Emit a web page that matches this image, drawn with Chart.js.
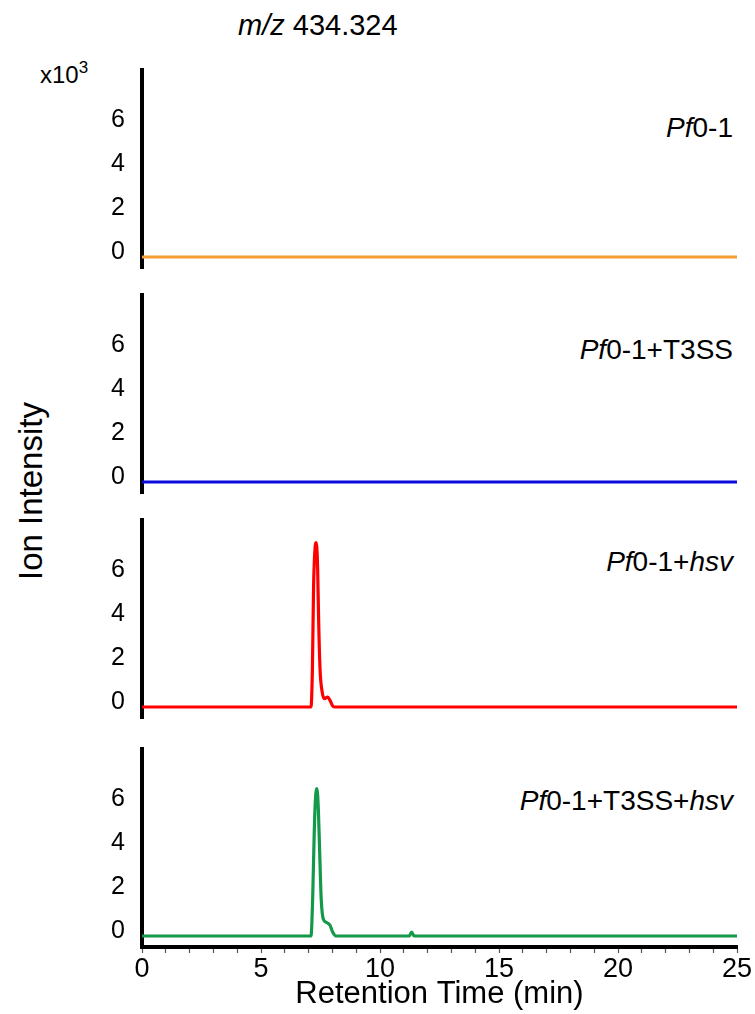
<!DOCTYPE html>
<html>
<head>
<meta charset="utf-8">
<script src="https://cdn.jsdelivr.net/npm/chart.js@4.4.0/dist/chart.umd.min.js"></script>
<style>
  html, body { margin: 0; padding: 0; background: #fff; }
  body { width: 755px; height: 1014px; position: relative; overflow: hidden;
         font-family: "Liberation Sans", Arial, Helvetica, sans-serif; color: #000; }
  canvas.panel { position: absolute; left: 0; }
  .txt { position: absolute; white-space: nowrap; line-height: 1; color: #000; }
</style>
</head>
<body>
<div class="txt" id="title" style="left:238px; top:11px; font-size:29px;"><i>m/z</i> 434.324</div>
<div class="txt" id="mult" style="left:40px; top:63px; font-size:24px;">x10<sup style="font-size:17px; vertical-align:0; position:relative; top:-10px;">3</sup></div>
<div class="txt" id="ylab" style="left:30px; top:491px; font-size:33px; transform:translate(-50%,-50%) rotate(-90deg);">Ion Intensity</div>
<div class="txt" id="lab0" style="right:22px; top:114px; font-size:28px;"><i>Pf</i>0-1</div>
<div class="txt" id="lab1" style="right:22px; top:336px; font-size:28px;"><i>Pf</i>0-1+T3SS</div>
<div class="txt" id="lab2" style="right:22px; top:548px; font-size:28px;"><i>Pf</i>0-1+<i>hsv</i></div>
<div class="txt" id="lab3" style="right:22px; top:787px; font-size:28px;"><i>Pf</i>0-1+T3SS+<i>hsv</i></div>

<canvas class="panel" id="p0"></canvas>
<canvas class="panel" id="p1"></canvas>
<canvas class="panel" id="p2"></canvas>
<canvas class="panel" id="p3"></canvas>

<script>
// ---------------- data ----------------
const timeMin = 0;
const timeMax = 25;
const xTickValues = [0,1,2,3,4,5,6,7,8,9,10,11,12,13,14,15,16,17,18,19,20,21,22,23,24,25];
const xTickLabels = ['0', '5', '10', '15', '20', '25'];
const yTickValues = [0, 2, 4, 6];
const yMin = -0.5;
const yMax = 8.5;
const xTitle = 'Retention Time (min)';

// Pf0-1
const time_Pf01 = [0, 25];
const int_Pf01 = [0, 0];
// Pf0-1+T3SS
const time_Pf01_T3SS = [0, 25];
const int_Pf01_T3SS = [0, 0];
// Pf0-1+hsv
const time_Pf01_hsv = [0, 7.10, 7.16, 7.21, 7.27, 7.32, 7.38, 7.42, 7.48, 7.56, 7.66, 7.80, 7.90, 8.01, 8.08, 25];
const int_Pf01_hsv  = [0, 0,    1.74, 5.53, 7.20, 7.47, 6.30, 4.03, 1.74, 0.75, 0.38, 0.45, 0.30, 0.05, 0,    0];
// Pf0-1+T3SS+hsv
const time_Pf01_T3SS_hsv = [0, 7.10, 7.17, 7.23, 7.28, 7.35, 7.41, 7.47, 7.53, 7.62, 7.76, 7.90, 8.01, 8.15, 11.23, 11.33, 11.43, 25];
const int_Pf01_T3SS_hsv  = [0, 0,    1.67, 4.40, 6.06, 6.70, 5.76, 3.64, 1.67, 0.76, 0.61, 0.49, 0.18, 0,    0,     0.18,  0,     0];

// ---------------- layout / style ----------------
const W = 755;
const AXIS_LEFT = 142;
const PAD_RIGHT = 18;
const PLOT_H = 198;
const PAD_V = 25;
const panelTops = [70, 295, 520, 749];
const colors = ['#F59E36', '#0A0ADC', '#FF0000', '#14994A'];
const FONT = '"Liberation Sans", Arial, Helvetica, sans-serif';

const panels = [
  { t: time_Pf01, v: int_Pf01 },
  { t: time_Pf01_T3SS, v: int_Pf01_T3SS },
  { t: time_Pf01_hsv, v: int_Pf01_hsv },
  { t: time_Pf01_T3SS_hsv, v: int_Pf01_T3SS_hsv }
];

function makePanel(i) {
  const isLast = i === panels.length - 1;
  const cv = document.getElementById('p' + i);
  const top = panelTops[i] - PAD_V;
  const h = isLast ? (1014 - top) : (PLOT_H + 2 * PAD_V);
  cv.style.top = top + 'px';
  cv.width = W; cv.height = h;
  cv.style.width = W + 'px'; cv.style.height = h + 'px';
  const xAxisH = h - PAD_V - PLOT_H;
  const pts = panels[i].t.map((x, k) => ({ x: x, y: panels[i].v[k] }));

  new Chart(cv, {
    type: 'line',
    data: {
      datasets: [{
        data: pts,
        borderColor: colors[i],
        borderWidth: 3.2,
        pointRadius: 0,
        fill: false,
        cubicInterpolationMode: 'monotone'
      }]
    },
    options: {
      responsive: false,
      devicePixelRatio: 1,
      animation: false,
      events: [],
      layout: { padding: { left: 0, right: PAD_RIGHT, top: PAD_V, bottom: isLast ? 0 : PAD_V } },
      plugins: { legend: { display: false }, tooltip: { enabled: false }, title: { display: false } },
      scales: {
        x: {
          type: 'linear',
          min: timeMin, max: timeMax,
          display: isLast,
          afterBuildTicks: (s) => { s.ticks = xTickValues.map(v => ({ value: v })); },
          afterFit: (s) => { if (isLast) s.height = xAxisH; },
          border: { display: true, color: '#000', width: 4 },
          grid: { drawOnChartArea: false, drawTicks: true, tickLength: 6, tickColor: '#555', tickWidth: 1.2 },
          ticks: {
            autoSkip: false, maxRotation: 0, padding: 0, color: '#000',
            font: { family: FONT, size: 27 },
            callback: (v) => xTickLabels.includes(String(v)) ? String(v) : ''
          },
          title: { display: true, text: xTitle, color: '#000', font: { family: FONT, size: 31 }, padding: { top: 0, bottom: 1 } }
        },
        y: {
          type: 'linear',
          min: yMin, max: yMax,
          afterBuildTicks: (s) => { s.ticks = yTickValues.map(v => ({ value: v })); },
          afterFit: (s) => { s.width = AXIS_LEFT; },
          border: { display: true, color: '#000', width: 4 },
          grid: { display: false },
          ticks: {
            padding: 9, labelOffset: -5, color: '#000',
            font: { family: FONT, size: 25 },
            callback: (v) => String(v)
          }
        }
      }
    }
  });
}

for (let i = 0; i < panels.length; i++) makePanel(i);
</script>
</body>
</html>
